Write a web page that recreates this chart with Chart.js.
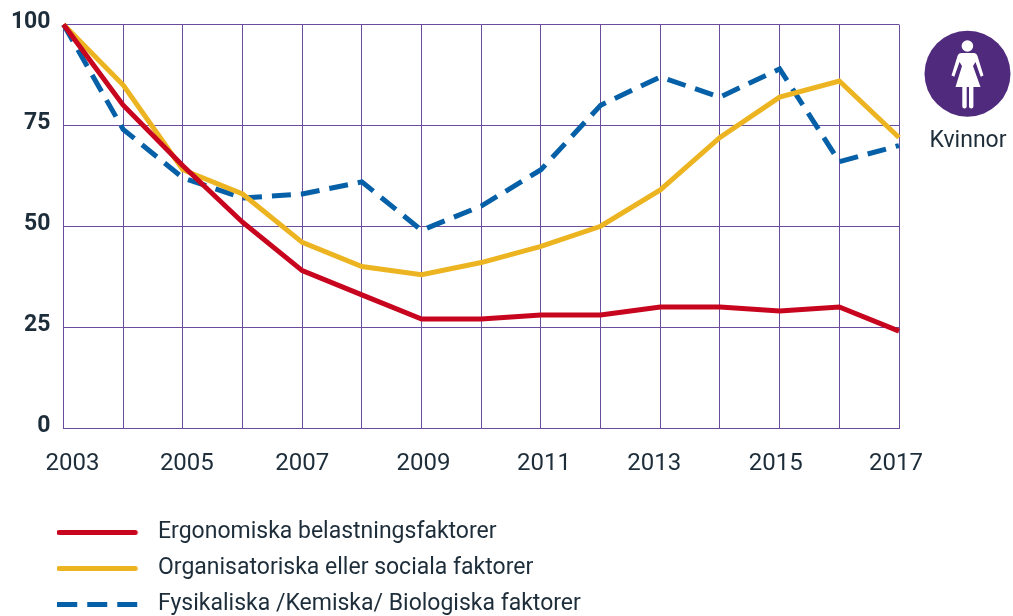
<!DOCTYPE html>
<html>
<head>
<meta charset="utf-8">
<script src="https://cdn.jsdelivr.net/npm/chart.js@4"></script>
<style>
html,body{margin:0;padding:0;background:#fff;overflow:hidden}
#wrap{position:relative;width:1013px;height:616px}
canvas{display:block}
svg{position:absolute;left:0;top:0}
</style>
</head>
<body>
<div id="wrap">
<canvas id="c" width="1013" height="616"></canvas>
<svg width="1013" height="616" viewBox="0 0 1013 616" pointer-events="none">
  <circle cx="967.5" cy="73.7" r="43" fill="#4f2a7d"/>
  <circle cx="967.4" cy="46" r="5.8" fill="#fff"/>
  <path d="M961.5 53 H973.5 Q976.5 53 977.5 56 L983.5 75.5 L980.7 76.7 L975.5 62 L973 66 L980.5 87 H973.4 V106.5 Q973.4 108.4 971.2 108.4 Q969 108.4 969 106.5 V87 H966.7 V106.5 Q966.7 108.4 964.5 108.4 Q962.3 108.4 962.3 106.5 V87 H955.5 L962 66 L959.5 62 L954.3 76.7 L951.5 75.5 L957.5 56 Q958.5 53 961.5 53 Z" fill="#fff"/>
  <text x="968" y="147" text-anchor="middle" font-family="Roboto" font-size="23" fill="#1d2d3a">Kvinnor</text>
</svg>
</div>
<script>
const categories = ['2003','2004','2005','2006','2007','2008','2009','2010','2011','2012','2013','2014','2015','2016','2017'];
const xTickLabels = ['2003','2005','2007','2009','2011','2013','2015','2017'];
const yTicks = [0,25,50,75,100];
const ergonomiska = [100,80,65,51,39,33,27,27,28,28,30,30,29,30,24];
const organisatoriska = [100,85,64,58,46,40,38,41,45,50,59,72,82,86,72];
const fysikaliska = [100,74,62,57,58,61,49,55,64,80,87,82,89,66,70];
const seriesNames = ['Ergonomiska belastningsfaktorer','Organisatoriska eller sociala faktorer','Fysikaliska /Kemiska/ Biologiska faktorer'];
const colRed = '#c8051e', colYellow = '#ecb421', colBlue = '#0560a8', colGrid = '#6a4d9c', colText = '#1d2d3a';
const labelNudge = {'2003':9,'2005':4,'2007':0,'2009':2,'2011':3,'2013':-6,'2015':-4,'2017':-3};

function sample(color, dash){
  const cv = document.createElement('canvas');
  cv.width = 89; cv.height = 8;
  const g = cv.getContext('2d');
  g.strokeStyle = color; g.lineWidth = 5;
  g.lineCap = dash ? 'butt' : 'round';
  if (dash) g.setLineDash([20,10]);
  g.beginPath();
  g.moveTo(dash ? 0 : 2, 4.5); g.lineTo(dash ? 80 : 78, 4.5); g.stroke();
  return cv;
}
function ds(label, data, color, dash){
  return {label, data, borderColor: color, backgroundColor: color, borderWidth: 5,
    borderDash: dash || [], pointRadius: 0, tension: 0, clip: false,
    borderCapStyle: 'butt', borderJoinStyle: 'miter',
    pointStyle: sample(color, !!dash)};
}
const legendPad = 13;
const placeLegend = {
  id: 'placeLegend',
  afterLayout(chart){
    const l = chart.legend;
    l.left = 57 - legendPad;
    l.top = 520.5 - legendPad;
  },
  beforeDraw(chart){
    chart.scales.x.getLabelItems().forEach(it => {
      if (!it._nudged){ it.options.translation[0] += (labelNudge[it.label] || 0); it._nudged = true; }
    });
    chart.scales.y.getLabelItems().forEach(it => {
      if (!it._nudged){ it.options.translation[1] -= 2; it._nudged = true; }
    });
  }
};
new Chart(document.getElementById('c'), {
  type: 'line',
  plugins: [placeLegend],
  data: {
    labels: categories,
    datasets: [
      ds(seriesNames[0], ergonomiska, colRed),
      ds(seriesNames[1], organisatoriska, colYellow),
      ds(seriesNames[2], fysikaliska, colBlue, [19,10])
    ]
  },
  options: {
    responsive: false,
    animation: false,
    layout: {padding: {top: 24.5, right: 114, left: 0, bottom: 0}},
    plugins: {
      tooltip: {enabled: false},
      title: {display: false},
      legend: {
        display: true, position: 'bottom', align: 'start', fullSize: false,
        labels: {
          usePointStyle: true, pointStyleWidth: 89.5, boxHeight: 6,
          padding: legendPad, color: colText,
          font: {family: 'Roboto', size: 23}
        }
      }
    },
    scales: {
      x: {
        type: 'category',
        offset: false,
        afterFit(s){ s.height = 70; },
        grid: {color: colGrid, lineWidth: 1, drawTicks: false, offset: false},
        border: {color: colGrid, width: 1},
        ticks: {
          autoSkip: false, maxRotation: 0, minRotation: 0, padding: 21.5, color: colText,
          font: {family: 'Roboto', size: 24},
          callback(v){ const t = this.getLabelForValue(v); return xTickLabels.includes(t) ? t : ''; }
        }
      },
      y: {
        min: 0, max: 100,
        afterFit(s){ s.width = 63.5; s.paddingTop = 0; s.paddingBottom = 0; },
        afterBuildTicks(s){ s.ticks = yTicks.map(v => ({value: v})); },
        grid: {color: colGrid, lineWidth: 1, drawTicks: false},
        border: {color: colGrid, width: 1},
        ticks: {padding: 13, color: colText, font: {family: 'Roboto', size: 23, weight: '700'}}
      }
    }
  }
});
</script>
</body>
</html>
